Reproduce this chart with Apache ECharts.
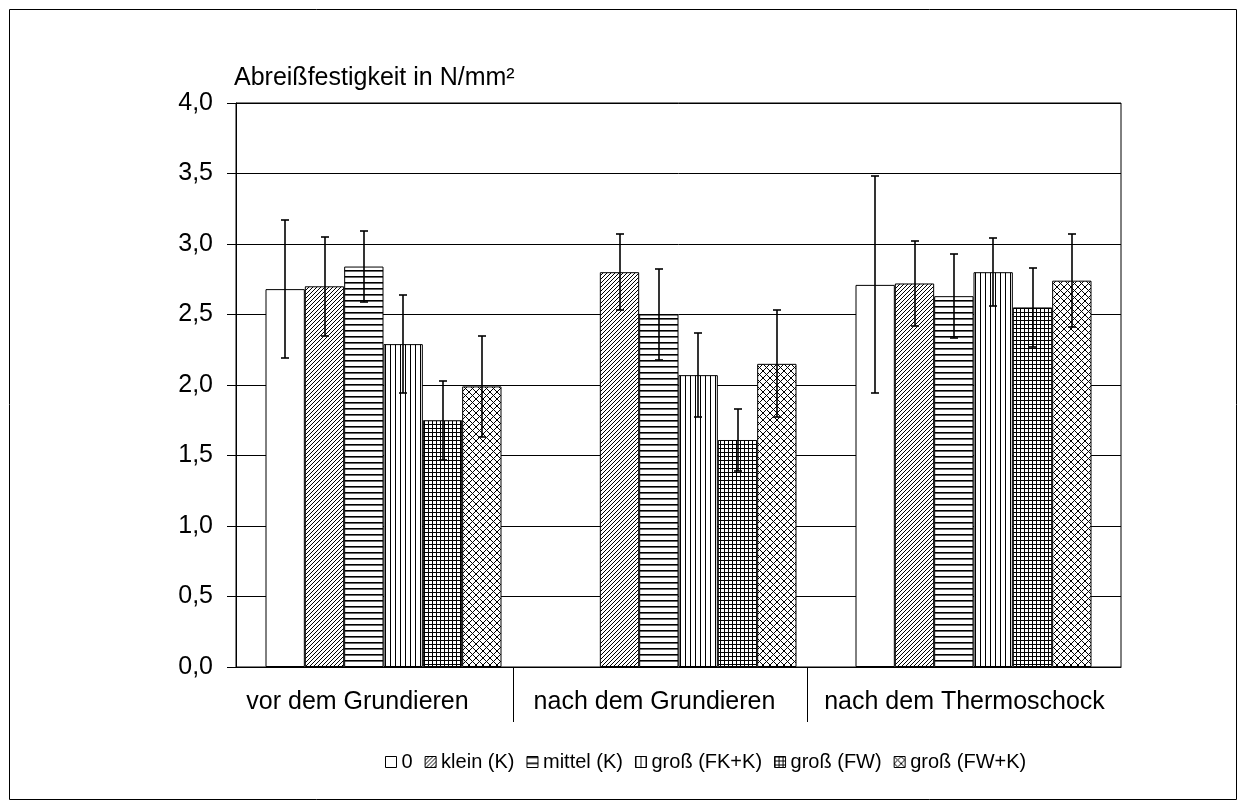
<!DOCTYPE html>
<html>
<head>
<meta charset="utf-8">
<title>Abreißfestigkeit</title>
<script src="https://cdn.jsdelivr.net/npm/echarts@6.0.0/dist/echarts.min.js"></script>
<style>
  html, body { margin: 0; padding: 0; background: #fff; }
  #chart { width: 1245px; height: 812px; }
</style>
</head>
<body>
<div id="chart"></div>
<script>
// Categories (test stages) and series (particle size / treatment)
const categories = ['vor dem Grundieren', 'nach dem Grundieren', 'nach dem Thermoschock'];
const seriesNames = ['0', 'klein (K)', 'mittel (K)', 'groß (FK+K)', 'groß (FW)', 'groß (FW+K)'];

// Mean pull-off strength in N/mm² per stage (null = not measured)
const mean0        = [2.68, null, 2.71];
const meanKleinK   = [2.70, 2.80, 2.72];
const meanMittelK  = [2.84, 2.50, 2.63];
const meanGrossFKK = [2.29, 2.07, 2.80];
const meanGrossFW  = [1.75, 1.61, 2.55];
const meanGrossFWK = [1.99, 2.15, 2.74];

// Standard deviation per stage
const err0        = [0.49, null, 0.77];
const errKleinK   = [0.35, 0.27, 0.30];
const errMittelK  = [0.25, 0.32, 0.30];
const errGrossFKK = [0.35, 0.30, 0.24];
const errGrossFW  = [0.28, 0.22, 0.28];
const errGrossFWK = [0.36, 0.38, 0.33];

// Value axis
const yMin = 0, yMax = 4, yStep = 0.5;

const means = [mean0, meanKleinK, meanMittelK, meanGrossFKK, meanGrossFW, meanGrossFWK];
const errs  = [err0, errKleinK, errMittelK, errGrossFKK, errGrossFW, errGrossFWK];

// --- hatch fills ---
function makeCanvas(w, h) {
  const c = document.createElement('canvas');
  c.width = w; c.height = h;
  const g = c.getContext('2d');
  g.fillStyle = '#fff';
  g.fillRect(0, 0, w, h);
  return [c, g];
}
function patternPlain() {
  const [c] = makeCanvas(4, 4);
  return c;
}
function patternDiagonal() {
  const [c, g] = makeCanvas(8, 8);
  g.strokeStyle = '#000'; g.lineWidth = 1;
  for (let x0 = -8; x0 <= 8; x0 += 4) {
    g.beginPath(); g.moveTo(x0, 8); g.lineTo(x0 + 8, 0); g.stroke();
  }
  return c;
}
function patternHorizontal() {
  const [c, g] = makeCanvas(6, 6);
  g.fillStyle = '#000'; g.fillRect(0, 0, 6, 1);
  g.fillStyle = '#666'; g.fillRect(0, 1, 6, 1);
  return c;
}
function patternVertical() {
  const [c, g] = makeCanvas(5, 5);
  g.fillStyle = '#000'; g.fillRect(0, 0, 1, 5);
  return c;
}
function patternGrid() {
  const [c, g] = makeCanvas(4, 4);
  g.fillStyle = '#000';
  g.fillRect(0, 0, 4, 1);
  g.fillRect(0, 0, 1, 4);
  return c;
}
function patternCross() {
  const p = 7;
  const [c, g] = makeCanvas(p, p);
  g.strokeStyle = '#000'; g.lineWidth = 1;
  for (let dx = -p; dx <= p; dx += p) {
    g.beginPath(); g.moveTo(dx, 0); g.lineTo(dx + p, p); g.stroke();
    g.beginPath(); g.moveTo(dx + p, 0); g.lineTo(dx, p); g.stroke();
  }
  return c;
}
const fills = [patternPlain(), patternDiagonal(), patternHorizontal(), patternVertical(), patternGrid(), patternCross()];

const barSeries = seriesNames.map((name, i) => ({
  name: name,
  type: 'bar',
  barGap: '0%',
  barCategoryGap: '20%',
  data: means[i].map(v => (v === null ? '-' : v)),
  itemStyle: {
    color: { image: fills[i], repeat: 'repeat' },
    borderColor: '#000',
    borderWidth: 1
  },
  emphasis: { disabled: true },
  z: 2
}));

// error bar records: [category index, series index, mean, deviation]
const errorData = [];
means.forEach((arr, s) => {
  arr.forEach((m, c) => {
    if (m !== null && errs[s][c] !== null) errorData.push([c, s, m, errs[s][c]]);
  });
});

const errorSeries = {
  type: 'custom',
  name: 'Standardabweichung',
  data: errorData,
  encode: { x: 0, y: 2 },
  z: 5,
  silent: true,
  renderItem: function (params, api) {
    const cat = api.value(0), s = api.value(1), m = api.value(2), e = api.value(3);
    const band = api.size([1, 0])[0];
    const bw = band * 0.8 / seriesNames.length;
    const base = api.coord([cat, m]);
    const cx = Math.round(base[0] + (s - (seriesNames.length - 1) / 2) * bw);
    const yt = Math.round(api.coord([cat, m + e])[1]);
    const yb = Math.round(api.coord([cat, m - e])[1]);
    const hw = 4;
    const st = { stroke: '#000', lineWidth: 1.6 };
    return {
      type: 'group',
      children: [
        { type: 'line', shape: { x1: cx, y1: yt, x2: cx, y2: yb }, style: st },
        { type: 'line', shape: { x1: cx - hw, y1: yt, x2: cx + hw, y2: yt }, style: st },
        { type: 'line', shape: { x1: cx - hw, y1: yb, x2: cx + hw, y2: yb }, style: st }
      ]
    };
  }
};

const fontFam = '"Liberation Sans", Arial, Helvetica, sans-serif';

const chart = echarts.init(document.getElementById('chart'), null, { renderer: 'canvas' });
chart.setOption({
  animation: false,
  backgroundColor: '#fff',
  textStyle: { fontFamily: fontFam, color: '#000' },
  title: {
    text: 'Abreißfestigkeit in N/mm²',
    left: 229,
    top: 61,
    textStyle: { fontFamily: fontFam, fontSize: 25, fontWeight: 'normal', color: '#000' }
  },
  legend: {
    data: seriesNames,
    top: 747,
    left: 380,
    icon: 'rect',
    itemWidth: 11,
    itemHeight: 11,
    itemGap: 12,
    selectedMode: false,
    itemStyle: { borderColor: '#000', borderWidth: 1 },
    textStyle: { fontFamily: fontFam, fontSize: 20, color: '#000' }
  },
  grid: {
    left: 236, right: 124, top: 103, bottom: 145,
    show: true, borderColor: '#000', borderWidth: 1,
    containLabel: false
  },
  xAxis: {
    type: 'category',
    data: categories,
    axisLine: { show: true, lineStyle: { color: '#000', width: 1 } },
    axisTick: { show: false },
    splitLine: { show: false },
    axisLabel: {
      margin: 23,
      interval: 0,
      formatter: (v, i) => '{c' + i + '|' + v + '}',
      rich: {
        c0: { fontSize: 25, fontFamily: fontFam, color: '#000', padding: [0, 52, 0, 0] },
        c1: { fontSize: 25, fontFamily: fontFam, color: '#000', padding: [0, 48, 0, 0] },
        c2: { fontSize: 25, fontFamily: fontFam, color: '#000', padding: [0, 18, 0, 0] }
      }
    }
  },
  yAxis: {
    type: 'value',
    min: yMin,
    max: yMax,
    interval: yStep,
    axisLine: { show: true, lineStyle: { color: '#000', width: 1 } },
    axisTick: { show: true, inside: false, length: 9, lineStyle: { color: '#000' } },
    splitLine: { show: true, lineStyle: { color: '#000', width: 1 } },
    axisLabel: {
      margin: 23,
      fontSize: 25,
      fontFamily: fontFam,
      color: '#000',
      formatter: v => v.toFixed(1).replace('.', ',')
    }
  },
  graphic: [
    // frame around the whole figure
    { type: 'rect', shape: { x: 9.5, y: 9.5, width: 1227, height: 790 }, style: { fill: 'none', stroke: '#000', lineWidth: 1 }, silent: true },
    // separators between the category labels
    { type: 'line', shape: { x1: 513.5, y1: 667, x2: 513.5, y2: 722 }, style: { stroke: '#000', lineWidth: 1 }, silent: true },
    { type: 'line', shape: { x1: 807.5, y1: 667, x2: 807.5, y2: 722 }, style: { stroke: '#000', lineWidth: 1 }, silent: true }
  ],
  series: barSeries.concat([errorSeries])
});
</script>
</body>
</html>
